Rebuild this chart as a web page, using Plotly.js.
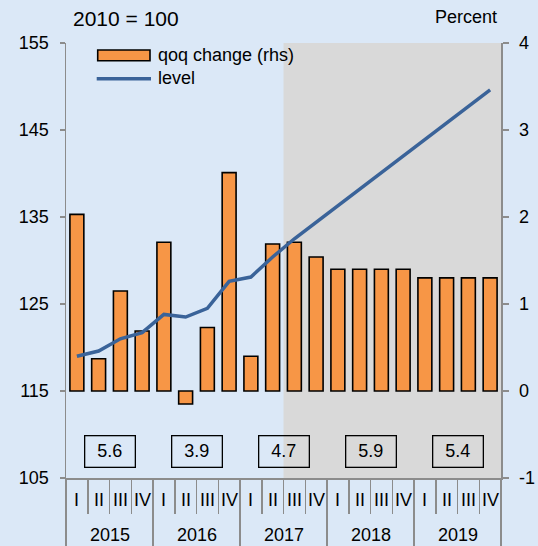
<!DOCTYPE html>
<html>
<head>
<meta charset="utf-8">
<script src="https://cdn.plot.ly/plotly-3.0.1.min.js"></script>
<style>html,body{margin:0;padding:0;background:#dbe8f7;}#chart{width:538px;height:546px;}</style>
</head>
<body>
<div id="chart"></div>
<script>
// ---- data ----
const years = ['2015', '2016', '2017', '2018', '2019'];
const quarterNames = ['I', 'II', 'III', 'IV'];
const qoqChange = [2.03, 0.37, 1.15, 0.69, 1.71, -0.15, 0.73, 2.51, 0.40, 1.69,
                   1.71, 1.54, 1.40, 1.40, 1.40, 1.40, 1.30, 1.30, 1.30, 1.30];
const level = [119.0, 119.6, 121.0, 121.7, 123.8, 123.5, 124.5, 127.6, 128.1, 130.4,
               132.5, 134.4, 136.3, 138.2, 140.1, 142.0, 143.9, 145.8, 147.7, 149.6];
const annualGrowth = ['5.6', '3.9', '4.7', '5.9', '5.4'];
const forecastStart = 10; // index of first forecast quarter (2017 III)
const leftTicks = [105, 115, 125, 135, 145, 155];
const rightTicks = [-1, 0, 1, 2, 3, 4];

// ---- build ----
const xIdx = qoqChange.map((_, i) => i);
const nQ = qoqChange.length;
const grey = '#8c8c8c';
const font = 'Liberation Sans, Arial, sans-serif';
const narrow = 'Liberation Sans Narrow, Arial Narrow, Liberation Sans, sans-serif';

// bars on the base (right-hand) axis, level line on the overlaying (left-hand) axis so it is drawn on top
const traces = [
  {
    type: 'bar', name: 'qoq change (rhs)', x: xIdx, y: qoqChange, yaxis: 'y',
    width: 0.64,
    marker: {color: '#f79646', line: {color: '#000000', width: 1.6}},
    showlegend: false, hoverinfo: 'y'
  },
  {
    type: 'scatter', mode: 'lines', name: 'level', x: xIdx, y: level, yaxis: 'y2',
    line: {color: '#3a6399', width: 3.5},
    showlegend: false, hoverinfo: 'y'
  }
];

const annotations = [];
// quarter labels
xIdx.forEach(i => {
  annotations.push({
    xref: 'x', yref: 'paper', x: i, y: 0, yanchor: 'middle', yshift: -22,
    text: quarterNames[i % 4], showarrow: false,
    font: {family: narrow, size: 18, color: '#000'}
  });
});
// year labels and annual growth boxes
years.forEach((yr, k) => {
  annotations.push({
    xref: 'x', yref: 'paper', x: 4 * k + 1.5, y: 0, yanchor: 'middle', yshift: -57,
    text: yr, showarrow: false,
    font: {family: narrow, size: 18, color: '#000'}
  });
  annotations.push({
    xref: 'x', yref: 'y2', x: 4 * k + 1.5, y: 108,
    text: annualGrowth[k], showarrow: false,
    bordercolor: '#000', borderwidth: 1.3, borderpad: 1,
    width: 47, height: 28, valign: 'middle',
    font: {family: font, size: 18, color: '#000'}
  });
});
// titles
annotations.push({
  xref: 'paper', yref: 'paper', x: 0.0108, y: 1.0568, xanchor: 'left', yanchor: 'middle',
  text: '2010 = 100', showarrow: false, font: {family: font, size: 21, color: '#000'}
});
annotations.push({
  xref: 'paper', yref: 'paper', x: 0.9954, y: 1.0605, xanchor: 'right', yanchor: 'middle',
  text: 'Percent', showarrow: false, font: {family: font, size: 18, color: '#000'}
});
// legend texts
annotations.push({
  xref: 'paper', yref: 'paper', x: 0.2069, y: 0.9724, xanchor: 'left', yanchor: 'middle',
  text: traces[0].name, showarrow: false, font: {family: font, size: 18, color: '#000'}
});
annotations.push({
  xref: 'paper', yref: 'paper', x: 0.2069, y: 0.9202, xanchor: 'left', yanchor: 'middle',
  text: traces[1].name, showarrow: false, font: {family: font, size: 18, color: '#000'}
});

const shapes = [
  {type: 'rect', xref: 'x', yref: 'paper', x0: forecastStart - 0.5, x1: nQ - 0.5, y0: 0, y1: 1,
   fillcolor: '#d9d9d9', line: {width: 0}, layer: 'below'},
  // legend swatches
  {type: 'rect', xref: 'paper', yref: 'paper', x0: 0.0729, x1: 0.1931, y0: 0.9593, y1: 0.9839,
   fillcolor: '#f79646', line: {color: '#000', width: 1.6}},
  {type: 'line', xref: 'paper', yref: 'paper', x0: 0.0706, x1: 0.1954, y0: 0.918, y1: 0.918,
   line: {color: '#3a6399', width: 3.5}}
];

const yearBounds = years.map((_, k) => 4 * k - 0.5).concat([nQ - 0.5]);

const layout = {
  width: 538, height: 546,
  margin: {l: 66, r: 37, t: 43, b: 68, pad: 0},
  paper_bgcolor: '#dbe8f7', plot_bgcolor: '#dbe8f7',
  showlegend: false,
  xaxis: {
    range: [-0.5, nQ - 0.5], showgrid: false, zeroline: false,
    showline: true, linecolor: grey, linewidth: 1.5,
    tickmode: 'array', tickvals: yearBounds, ticktext: yearBounds.map(() => ''),
    ticks: 'outside', ticklen: 68, tickwidth: 1.5, tickcolor: grey,
    minor: {tickmode: 'linear', tick0: -0.5, dtick: 1, ticks: 'outside', ticklen: 34,
            tickwidth: 1.5, tickcolor: grey, showgrid: false},
    fixedrange: true
  },
  yaxis: {
    range: [-1, 4], side: 'right',
    tickmode: 'array', tickvals: rightTicks, ticktext: rightTicks.map(String),
    showgrid: false, zeroline: false, showline: true, linecolor: grey, linewidth: 1.5,
    ticks: 'outside', ticklen: 6, tickwidth: 1.5, tickcolor: grey, ticklabelstandoff: 7,
    tickfont: {family: font, size: 18, color: '#000'}
  },
  yaxis2: {
    range: [105, 155], overlaying: 'y', side: 'left',
    tickmode: 'array', tickvals: leftTicks, ticktext: leftTicks.map(String),
    showgrid: false, zeroline: false, showline: true, linecolor: grey, linewidth: 1.5,
    ticks: 'outside', ticklen: 5, tickwidth: 1.5, tickcolor: grey, ticklabelstandoff: 7,
    tickfont: {family: font, size: 18, color: '#000'}
  },
  shapes: shapes,
  annotations: annotations
};

Plotly.newPlot('chart', traces, layout, {staticPlot: true, displayModeBar: false});
</script>
</body>
</html>
